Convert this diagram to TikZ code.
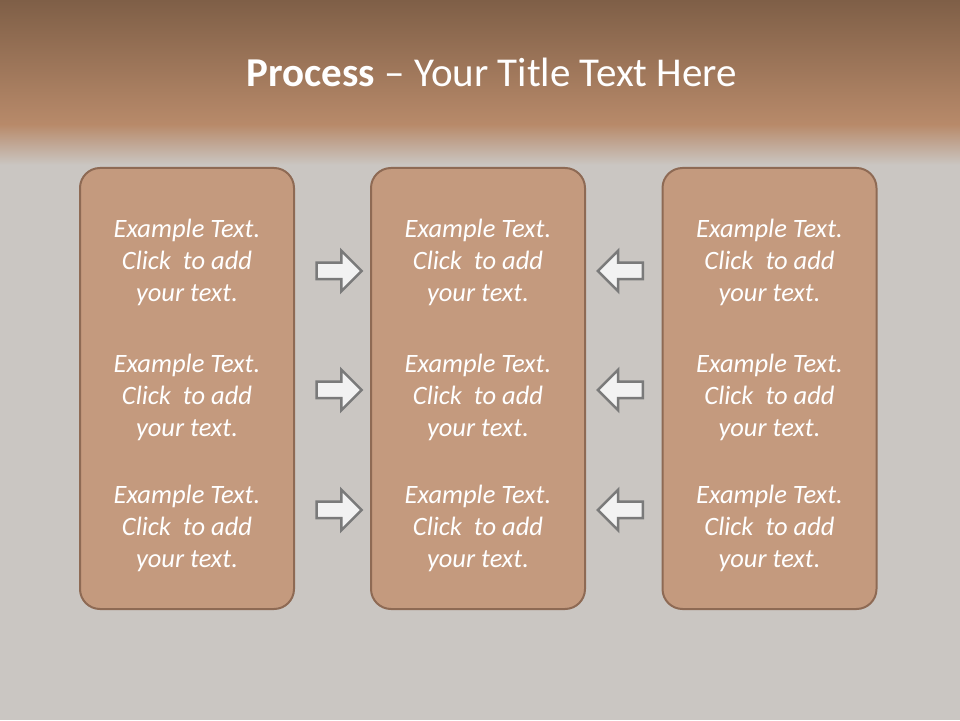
\documentclass[tikz,border=0pt]{standalone}
\usepackage{fontspec}
\setmainfont{Carlito}
\usetikzlibrary{shapes.arrows,positioning}
\definecolor{band}{HTML}{7F5F47}
\definecolor{bandlow}{HTML}{B88A6A}
\definecolor{slide}{HTML}{CAC6C2}
\definecolor{boxfill}{HTML}{C49A7E}
\definecolor{boxline}{HTML}{8E6A54}
\definecolor{arrowline}{HTML}{7A7A7A}
\begin{document}
\begin{tikzpicture}[x=1pt,y=1pt]
\tikzstyle{panel}=[draw=boxline, line width=2pt, fill=boxfill, rounded corners=20pt,
  minimum width=214pt, minimum height=441pt, inner sep=0pt]
\tikzstyle{words}=[text=white, align=center, anchor=base,
  font=\fontsize{26.5}{32}\selectfont\itshape]
\tikzstyle{fwd}=[single arrow, draw=arrowline, line width=2.5pt, fill=white!95!black,
  minimum height=45pt, minimum width=38pt, single arrow head extend=12pt,
  inner xsep=0pt, inner ysep=7pt]
\tikzstyle{back}=[fwd, shape border rotate=180]

% background
\useasboundingbox (0,0) rectangle (960,720);
\fill[slide] (0,0) rectangle (960,720);
\shade[top color=band, bottom color=bandlow] (0,595) rectangle (960,720);
\shade[top color=bandlow, bottom color=slide] (0,555) rectangle (960,595.5);

\node (title) at (492,633) [anchor=base, text=white, font=\fontsize{41}{44}\selectfont]
  {\textbf{Process} -- Your Title Text Here};

% panels
\node (left)  at (187,331.5) [panel] {};
\node (mid)   at (478,331.5) [panel] {};
\node (right) at (769.5,331.5) [panel] {};

\foreach \p/\x in {left/187, mid/478, right/769.5}
  \foreach \y/\r in {418/a, 283/b, 153/c}
    \node (\p\r) at (\x,\y) [words] {Example Text.\\Click~ to add\\your text.};

% arrows
\node (ra) at (335,449) [fwd] {};
\node (rb) at (335,330) [fwd] {};
\node (rc) at (335,210) [fwd] {};
\node (la) at (624.5,449) [back] {};
\node (lb) at (624.5,330) [back] {};
\node (lc) at (624.5,210) [back] {};
\end{tikzpicture}
\end{document}
